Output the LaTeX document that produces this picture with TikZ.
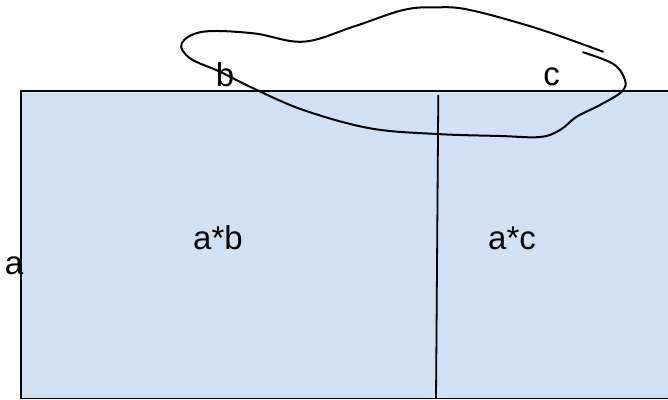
\documentclass[tikz,border=0pt]{standalone}
\usepackage{fontspec}
\setmainfont{Liberation Sans}
\usepackage{xcolor}
\usepackage{tikz}
\usetikzlibrary{positioning, calc}
\definecolor{cellblue}{HTML}{CFE2F3}

\begin{document}
\begin{tikzpicture}[x=0.5pt, y=-0.5pt,
    lbl/.style={inner sep=0pt, anchor=base, font=\fontsize{16.5}{19}\selectfont},
    edge/.style={draw=black, line width=0.9pt},
    loop/.style={draw=black, line width=1pt, line cap=round}
]
\useasboundingbox (0,0) rectangle (668,400);
\clip (0,0) rectangle (668,400);
% area split in two
\path[edge, fill=cellblue] (21,91) rectangle (680,398.5);
\coordinate (splittop) at (438.3,95);
\coordinate (splitbot) at (436,398.5);
\draw[edge] (splittop) -- (splitbot);
% side labels
\node[lbl] (b) at (225,87) {b};
\node[lbl] (c) at (551.5,85.5) {c};
\node[lbl] (a) at (14,275) {a};
\node[lbl] (ab) at (218,249.3) {a*b};
\node[lbl] (ac) at (512,249.3) {a*c};
% freehand loop round the top side
\draw[loop] plot[smooth, tension=0.6] coordinates {
    (603,51.7) (536.7,28.3) (470,10) (436.7,7.3) (403.3,10) (353.3,26.7)
    (303.3,41.7) (253.3,33.3) (203.3,31.7) (181.7,43.3) (190,58.3)
    (220,71.7) (253.3,88.3) (303.3,110) (370,128.3) (436.7,134)
    (500,136) (540,137) (560,130) (576.7,116.7) (600,105) (621.7,91.7)
    (625,80) (613.3,64) (583,52.3)};
\end{tikzpicture}
\end{document}
